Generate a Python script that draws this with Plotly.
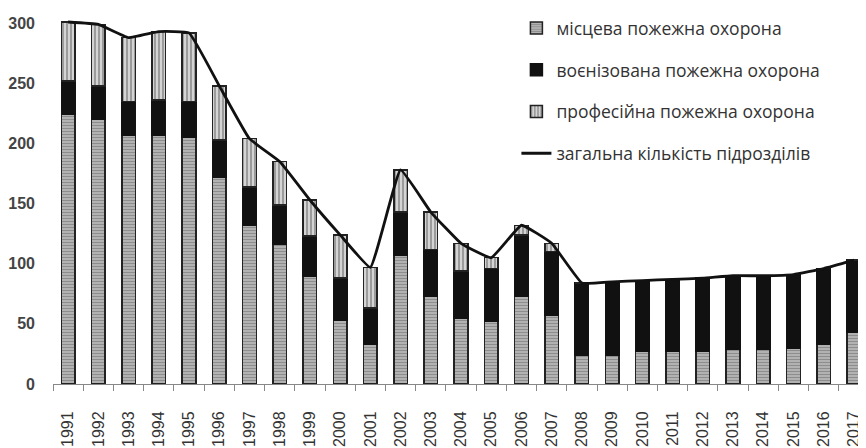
import plotly.graph_objects as go

years = [str(y) for y in range(1991, 2018)]
mistseva = [224, 220, 207, 207, 205, 172, 132, 116, 90, 53, 33, 107, 73, 55, 52, 73, 57,
            24, 24, 27, 27, 27, 29, 29, 30, 33, 43]
voienizovana = [28, 28, 28, 29, 30, 31, 32, 33, 33, 35, 30, 36, 39, 39, 44, 51, 53,
                60, 61, 59, 60, 61, 61, 61, 61, 63, 60]
profesiina = [49, 51, 53, 57, 57, 45, 40, 36, 30, 36, 34, 35, 31, 23, 9, 8, 7,
              0, 0, 0, 0, 0, 0, 0, 0, 0, 0]
total = [a + b + c for a, b, c in zip(mistseva, voienizovana, profesiina)]

names = ["місцева пожежна охорона", "воєнізована пожежна охорона",
         "професійна пожежна охорона", "загальна кількість підрозділів"]

fig = go.Figure()
fig.add_trace(go.Bar(
    x=years, y=mistseva, name=names[0], legendrank=1, legendgroup="a",
    marker=dict(color="#bbbbbb", line=dict(color="#222", width=1.5),
                pattern=dict(shape="-", fgcolor="#555", bgcolor="#c4c4c4", size=3, solidity=0.55)),
))
fig.add_trace(go.Bar(
    x=years, y=voienizovana, name=names[1], legendrank=2, legendgroup="b",
    marker=dict(color="#111", line=dict(color="#111", width=1.5)),
))
fig.add_trace(go.Bar(
    x=years, y=profesiina, name=names[2], legendrank=3, legendgroup="c",
    marker=dict(color="#cccccc", line=dict(color="#222", width=1.5),
                pattern=dict(shape="|", fgcolor="#555", bgcolor="#d4d4d4", size=4, solidity=0.45)),
))
fig.add_trace(go.Scatter(
    x=years, y=total, name=names[3], legendrank=4, legendgroup="d",
    mode="lines", line=dict(color="#111", width=2.8, shape="spline", smoothing=0.3),
))

fig.update_layout(
    width=866, height=448,
    barmode="stack", bargap=0.55,
    plot_bgcolor="white", paper_bgcolor="white",
    margin=dict(l=45, r=8, t=2, b=72),
    font=dict(family="Open Sans", color="#333"),
    legend=dict(x=0.57, y=1.016, xanchor="left", yanchor="top",
                font=dict(size=17.5, color="#333"), traceorder="grouped",
                tracegroupgap=16, bgcolor="rgba(0,0,0,0)"),
    xaxis=dict(type="category", range=[-0.5, 26.4], showline=True, linecolor="#888",
               linewidth=1, ticks="outside", tickson="boundaries", ticklen=6,
               tickcolor="#888", tickangle=-90, showgrid=False, ticklabelstandoff=20,
               automargin=False,
               tickfont=dict(family="Liberation Sans", size=16, color="#333")),
    yaxis=dict(range=[0, 306], tickvals=[0, 50, 100, 150, 200, 250, 300], showgrid=False,
               showline=False, zeroline=False, ticks="", ticklabelstandoff=17,
               automargin=False,
               tickfont=dict(family="Liberation Sans", size=16, color="#444", weight="bold")),
)

fig.write_html("out.html")
